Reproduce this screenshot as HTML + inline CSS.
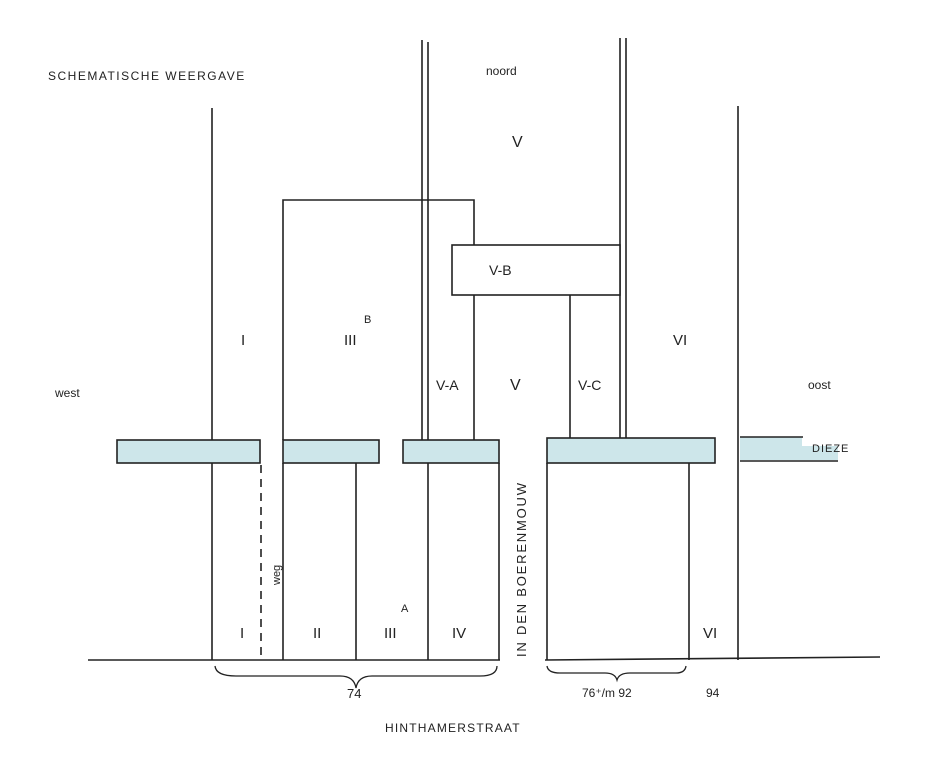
<!DOCTYPE html>
<html><head><meta charset="utf-8"><style>
html,body{margin:0;padding:0;background:#fff;}
svg{display:block;}
text{font-family:"Liberation Sans",sans-serif;fill:#222;}
</style></head><body>
<svg width="936" height="771" viewBox="0 0 936 771" xmlns="http://www.w3.org/2000/svg">
<g stroke="#222" stroke-width="1.6" fill="none">
<!-- main verticals -->
<line x1="212" y1="108" x2="212" y2="660"/>
<line x1="738" y1="106" x2="738" y2="660"/>
<!-- III-B box -->
<polyline points="283,440 283,200 474,200 474,245"/>
<line x1="474" y1="295" x2="474" y2="440"/>
<!-- double lines -->
<line x1="422" y1="40" x2="422" y2="440"/>
<line x1="428" y1="42" x2="428" y2="440"/>
<line x1="620" y1="38" x2="620" y2="438"/>
<line x1="626" y1="38" x2="626" y2="438"/>
<!-- V-B -->
<rect x="452" y="245" width="168" height="50" fill="#fff"/>
<line x1="570" y1="295" x2="570" y2="438"/>
<!-- lower verticals -->
<line x1="261" y1="465" x2="261" y2="660" stroke-dasharray="8,6"/>
<line x1="283" y1="463" x2="283" y2="660"/>
<line x1="356" y1="463" x2="356" y2="660"/>
<line x1="428" y1="463" x2="428" y2="660"/>
<line x1="499" y1="463" x2="499" y2="660"/>
<line x1="547" y1="463" x2="547" y2="660"/>
<line x1="689" y1="463" x2="689" y2="660"/>
<!-- cyan bars (on top) -->
<rect x="117" y="440" width="143" height="23" fill="#cde6ea"/>
<rect x="283" y="440" width="96" height="23" fill="#cde6ea"/>
<rect x="403" y="440" width="96" height="23" fill="#cde6ea"/>
<rect x="547" y="438" width="168" height="25" fill="#cde6ea"/>
<rect x="740" y="437" width="62" height="23" fill="#cde6ea" stroke="none"/>
<rect x="802" y="446" width="36" height="14" fill="#cde6ea" stroke="none"/>
<line x1="740" y1="437" x2="803" y2="437"/>
<line x1="740" y1="461" x2="838" y2="461"/>
<!-- baselines -->
<line x1="88" y1="660" x2="500" y2="660"/>
<line x1="545" y1="660" x2="880" y2="657"/>
<!-- braces -->
<path d="M215,666 Q216,676 236,676 L340,676 Q354,676 356,688 Q358,676 372,676 L480,676 Q497,676 497,666" stroke-width="1.3"/>
<path d="M547,666 Q548,673 560,673 L605,673 Q615,673 617,680 Q619,673 630,673 L676,673 Q685,673 686,666" stroke-width="1.3"/>
</g>
<g font-size="13">
<text x="48" y="80" font-size="12" letter-spacing="1.5">SCHEMATISCHE WEERGAVE</text>
<text x="486" y="75" font-size="12">noord</text>
<text x="512" y="147" font-size="16">V</text>
<text x="489" y="275" font-size="14">V-B</text>
<text x="241" y="345" font-size="15">I</text>
<text x="344" y="345" font-size="15">III</text>
<text x="364" y="323" font-size="11">B</text>
<text x="436" y="390" font-size="14">V-A</text>
<text x="510" y="390" font-size="16">V</text>
<text x="578" y="390" font-size="14">V-C</text>
<text x="673" y="345" font-size="15">VI</text>
<text x="55" y="397" font-size="12">west</text>
<text x="808" y="389" font-size="12">oost</text>
<text x="812" y="452" font-size="11" letter-spacing="1">DIEZE</text>
<text x="240" y="638" font-size="15">I</text>
<text x="313" y="638" font-size="15">II</text>
<text x="384" y="638" font-size="15">III</text>
<text x="401" y="612" font-size="11">A</text>
<text x="452" y="638" font-size="15">IV</text>
<text x="703" y="638" font-size="15">VI</text>
<text x="347" y="698" font-size="13">74</text>
<text x="582" y="697" font-size="12">76⁺/m 92</text>
<text x="706" y="697" font-size="12">94</text>
<text x="385" y="732" font-size="12" letter-spacing="1.2">HINTHAMERSTRAAT</text>
<text transform="translate(280,585) rotate(-90)" font-size="11">weg</text>
<text transform="translate(526,657) rotate(-90)" font-size="13" letter-spacing="1.8">IN DEN BOERENMOUW</text>
</g>
</svg>
</body></html>
